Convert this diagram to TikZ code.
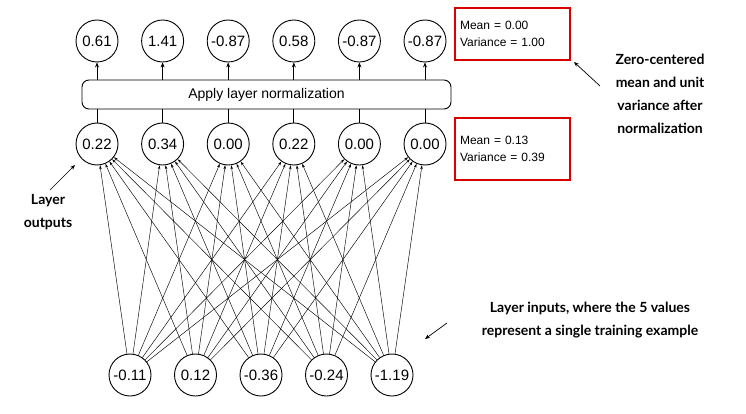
\documentclass[tikz,border=0pt]{standalone}
\usepackage{fontspec}
\setmainfont{Liberation Sans}
\newfontfamily\annfont{Lato}
\usetikzlibrary{arrows.meta}
\begin{document}
\begin{tikzpicture}[x=1pt,y=-1pt,
  neuron/.style={circle,draw,line width=0.9pt,minimum size=42pt,inner sep=0pt,font=\fontsize{15}{17}\selectfont},
  arr/.style={-{Stealth[length=5pt,width=4pt]},line width=0.7pt},
  conn/.style={-{Stealth[length=4pt,width=2.5pt]},line width=0.45pt},
  redbox/.style={draw=red!85!black,line width=2.2pt,minimum width=115pt,align=left,text width=105pt,font=\fontsize{12}{17}\selectfont},
  ann/.style={font=\annfont\bfseries\fontsize{14}{23}\selectfont,align=center}]
\useasboundingbox (0,0) rectangle (746,414);
\foreach \v [count=\i] in {0.61,1.41,-0.87,0.58,-0.87,-0.87}{
  \pgfmathsetmacro{\xx}{97+65.6*(\i-1)}
  \node[neuron] (t\i) at (\xx,41) {\v};}
\foreach \v [count=\i] in {0.22,0.34,0.00,0.22,0.00,0.00}{
  \pgfmathsetmacro{\xx}{97+65.6*(\i-1)}
  \node[neuron] (m\i) at (\xx,144) {\v};}
\foreach \v [count=\i] in {-0.11,0.12,-0.36,-0.24,-1.19}{
  \pgfmathsetmacro{\xx}{130+65.5*(\i-1)}
  \node[neuron] (b\i) at (\xx,375) {\v};}
\node[draw,rounded corners=7pt,line width=0.9pt,minimum width=369pt,minimum height=29pt,font=\fontsize{14}{16}\selectfont] (box) at (266.5,94.5) {Apply layer normalization};
\foreach \i in {1,...,6}{
  \draw[arr] (box.north -| t\i) -- (t\i.south);
  \draw[line width=0.7pt] (m\i.north) -- (box.south -| m\i);
  \foreach \j in {1,...,5}{
    \draw[conn] (b\j) -- (m\i);}}
\node[redbox,minimum height=52pt] (r1) at (512.5,34) {Mean = 0.00\\Variance = 1.00};
\node[redbox,minimum height=62pt] (r2) at (512.5,149) {Mean = 0.13\\Variance = 0.39};
\node[ann] (a1) at (660,94) {Zero-centered\\mean and unit\\variance after\\normalization};
\coordinate (a1t) at (600,86);
\draw[arr] (a1t) -- (574,62);
\node[ann] (a2) at (48,212) {Layer\\outputs};
\coordinate (a2t) at (50,190);
\draw[arr] (a2t) -- (75,165);
\node[ann] (a3) at (590,320) {Layer inputs, where the 5 values\\represent a single training example};
\coordinate (a3s) at (447,323);
\coordinate (a3e) at (425,339);
\draw[arr] (a3s) -- (a3e);
\end{tikzpicture}
\end{document}
